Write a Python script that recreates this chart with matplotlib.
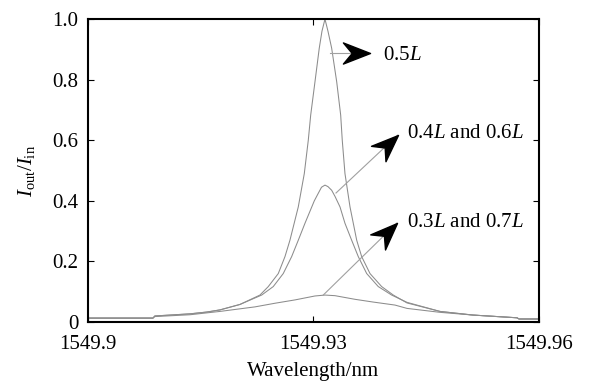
import numpy as np
import matplotlib.pyplot as plt
from matplotlib.path import Path
from matplotlib.markers import MarkerStyle
from matplotlib.transforms import Affine2D

plt.rcParams['font.family'] = 'Liberation Serif'
plt.rcParams['mathtext.fontset'] = 'custom'
plt.rcParams['mathtext.rm'] = 'Liberation Serif'
plt.rcParams['mathtext.it'] = 'Liberation Serif:italic'

# curve for 0.5L
wl_a = [1549.9000, 1549.90865, 1549.9089, 1549.91357, 1549.91583, 1549.91756, 1549.92022,
        1549.92288, 1549.92399, 1549.92532, 1549.92621, 1549.92687, 1549.92798, 1549.92878,
        1549.92931, 1549.92963, 1549.93020, 1549.93077, 1549.93113, 1549.93153, 1549.93193,
        1549.93242, 1549.93309, 1549.93362, 1549.93383, 1549.93419, 1549.93486, 1549.93575,
        1549.93641, 1549.93752, 1549.93907, 1549.94062, 1549.94244, 1549.94683, 1549.95122,
        1549.95707, 1549.95734, 1549.9600]
I_a = [0.013, 0.013, 0.020, 0.027, 0.033, 0.040, 0.058,
       0.089, 0.117, 0.160, 0.216, 0.270, 0.380, 0.490,
       0.600, 0.683, 0.793, 0.904, 0.960, 1.000, 0.960,
       0.904, 0.793, 0.683, 0.600, 0.490, 0.380, 0.270,
       0.216, 0.160, 0.117, 0.089, 0.063, 0.035, 0.023,
       0.014, 0.010, 0.010]

# curve for 0.4L and 0.6L
wl_b = [1549.9000, 1549.90865, 1549.9089, 1549.91357, 1549.91583, 1549.91756, 1549.92022,
        1549.92311, 1549.92465, 1549.92598, 1549.92710, 1549.92798, 1549.92887, 1549.93011,
        1549.93064, 1549.93107, 1549.93153, 1549.93193, 1549.93242, 1549.93286, 1549.93353,
        1549.93419, 1549.93508, 1549.93596, 1549.93708, 1549.93862, 1549.94040, 1549.94244,
        1549.94683, 1549.95122, 1549.95707, 1549.95734, 1549.9600]
I_b = [0.013, 0.013, 0.020, 0.027, 0.033, 0.040, 0.058,
       0.089, 0.117, 0.160, 0.216, 0.270, 0.326, 0.400,
       0.425, 0.445, 0.452, 0.447, 0.435, 0.415, 0.380,
       0.326, 0.270, 0.216, 0.160, 0.117, 0.089, 0.065,
       0.035, 0.023, 0.014, 0.010, 0.010]

# curve for 0.3L and 0.7L
wl_c = [1549.9000, 1549.90865, 1549.9089, 1549.91357, 1549.91756, 1549.92222, 1549.92488,
        1549.92754, 1549.93020, 1549.93153, 1549.93286, 1549.93552, 1549.93792, 1549.94084,
        1549.94244, 1549.94683, 1549.95122, 1549.95707, 1549.95734, 1549.9600]
I_c = [0.013, 0.013, 0.018, 0.024, 0.035, 0.050, 0.062,
       0.073, 0.086, 0.089, 0.087, 0.075, 0.066, 0.056,
       0.045, 0.032, 0.023, 0.014, 0.010, 0.010]

labels = ['0.5$L$', '0.4$L$ and 0.6$L$', '0.3$L$ and 0.7$L$']
arrow_from = [(1549.9322, 0.888), (1549.9330, 0.426), (1549.9313, 0.089)]
arrow_to = [(1549.9375, 0.888), (1549.9412, 0.617), (1549.9411, 0.327)]
label_pos = [(1549.9392, 0.881), (1549.9424, 0.624), (1549.9424, 0.330)]

xticks = [1549.9, 1549.93, 1549.96]
xticklabels = ['1549.9', '1549.93', '1549.96']
yticks = [0, 0.2, 0.4, 0.6, 0.8, 1.0]
yticklabels = ['0', '0.2', '0.4', '0.6', '0.8', '1.0']

fig = plt.figure(figsize=(5.9, 3.82), dpi=100)
ax = fig.add_axes([0.149, 0.157, 0.7646, 0.793])

for wl, I in [(wl_a, I_a), (wl_b, I_b), (wl_c, I_c)]:
    ax.plot(wl, I, color='#8c8c8c', lw=0.75)

ax.set_xlim(1549.9, 1549.96)
ax.set_ylim(0, 1.0)
ax.set_xticks(xticks)
ax.set_xticklabels(xticklabels)
ax.set_yticks(yticks)
ax.set_yticklabels(yticklabels)
ax.tick_params(direction='in', top=True, right=True, length=4, width=0.8,
               labelsize=15, pad=7)
ax.tick_params(axis='x', pad=9)
for s in ax.spines.values():
    s.set_linewidth(1.5)

ax.set_xlabel('Wavelength/nm', fontsize=15)
ax.xaxis.set_label_coords(0.5, -0.132)
ax.set_ylabel(r'$I_{\rm out}/I_{\rm in}$', fontsize=15)
ax.yaxis.set_label_coords(-0.112, 0.5)

# stealth-like arrowhead, tip at origin
head = Path([(0, 0), (-2, 0.78), (-1.35, 0), (-2, -0.78), (0, 0)],
            [Path.MOVETO, Path.LINETO, Path.LINETO, Path.LINETO, Path.CLOSEPOLY])

fig.canvas.draw()
for (x0, y0), (x1, y1), lab, (tx, ty) in zip(arrow_from, arrow_to, labels, label_pos):
    ax.plot([x0, x1], [y0, y1], color='#a0a0a0', lw=0.8)
    p0 = ax.transData.transform((x0, y0))
    p1 = ax.transData.transform((x1, y1))
    ang = np.degrees(np.arctan2(p1[1] - p0[1], p1[0] - p0[0]))
    m = MarkerStyle(head, transform=Affine2D().rotate_deg(ang))
    ax.plot([x1], [y1], marker=m, markersize=39, color='black', lw=0, clip_on=False)
    ax.text(tx, ty, lab, fontsize=15, va='center', ha='left')

fig.savefig('out.png', dpi=100)
